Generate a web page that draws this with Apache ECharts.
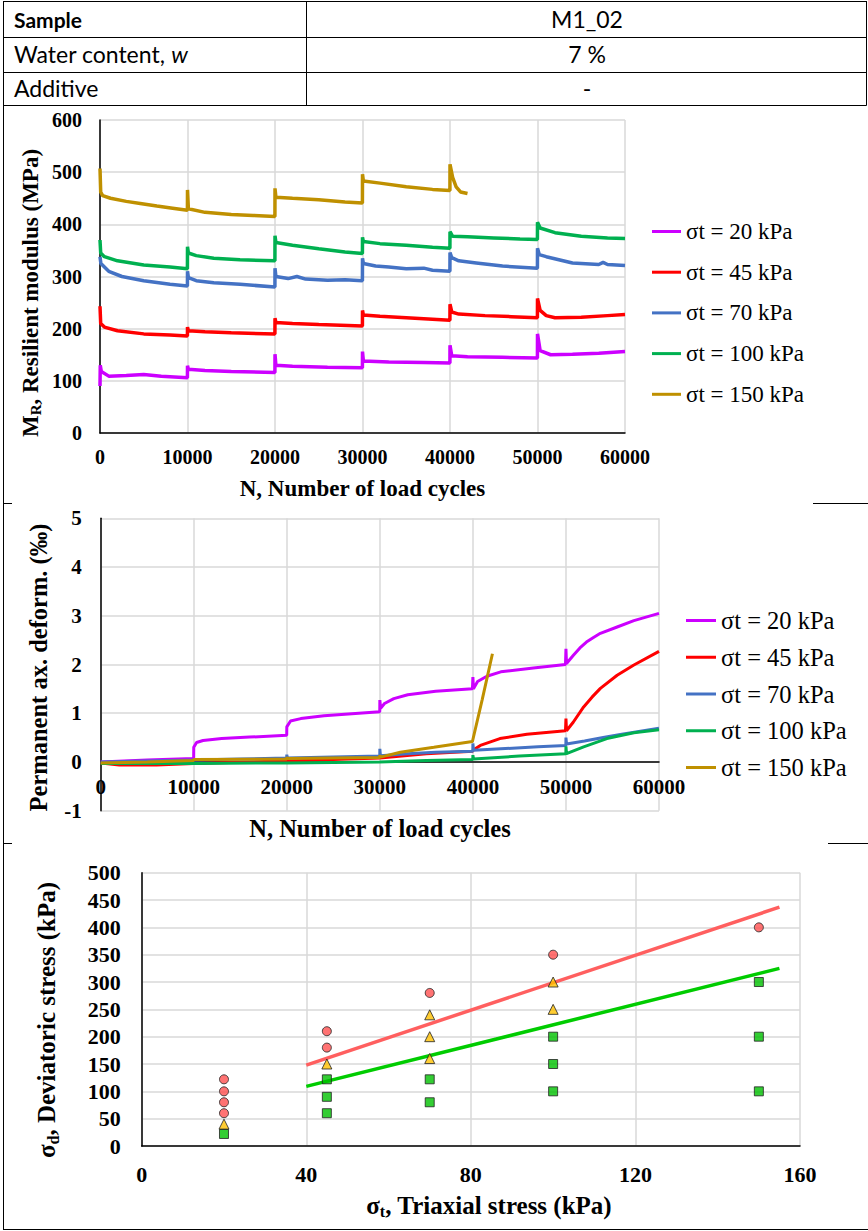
<!DOCTYPE html>
<html><head><meta charset="utf-8">
<script src="https://cdn.jsdelivr.net/npm/echarts@6/dist/echarts.min.js"></script>
<style>html,body{margin:0;padding:0;background:#fff}#c{width:868px;height:1231px}</style>
</head><body><div id="c"></div>
<script>
// ---------- data ----------
const seriesNames = ['σt = 20 kPa', 'σt = 45 kPa', 'σt = 70 kPa', 'σt = 100 kPa', 'σt = 150 kPa'];
const lineColors = ['#CC00FF', '#FF0000', '#4472C4', '#00B050', '#BF9000'];

const nTicks = [0, 10000, 20000, 30000, 40000, 50000, 60000];
const mrTicks = [0, 100, 200, 300, 400, 500, 600];
const pdTicks = [-1, 0, 1, 2, 3, 4, 5];
const stTicks = [0, 40, 80, 120, 160];
const sdTicks = [0, 50, 100, 150, 200, 250, 300, 350, 400, 450, 500];

// Resilient modulus MR (MPa) vs N
const mr20 = [[0,90],[30,130],[150,118],[1000,109],[3000,110],[5000,112],[7000,109],[9990,106],
  [10000,129],[10100,122],[12000,120],[15000,118],[19990,116],
  [20000,151],[20100,130],[22000,128],[26000,126],[29990,125],
  [30000,156],[30100,138],[33000,136],[37000,135],[39990,134],
  [40000,168],[40200,148],[42000,146],[46000,145],[49990,144],
  [50000,190],[50300,158],[51500,150],[54000,151],[57000,153],[60000,156]];
const mr45 = [[0,243],[80,210],[500,203],[2000,196],[5000,190],[8000,188],[9990,186],
  [10000,203],[10100,196],[12000,194],[15000,192],[19990,190],
  [20000,220],[20100,212],[22000,210],[25000,208],[29990,205],
  [30000,235],[30100,226],[32000,224],[35000,221],[38000,218],[39990,216],
  [40000,247],[40200,232],[41000,228],[44000,225],[47000,223],[49990,221],
  [50000,258],[50300,235],[51000,225],[52000,221],[55000,222],[58000,225],[60000,227]];
const mr70 = [[0,338],[100,325],[1000,310],[2500,300],[5000,292],[8000,285],[9990,282],
  [10000,310],[10100,298],[11000,292],[13000,288],[16000,285],[19990,280],
  [20000,316],[20100,300],[21500,296],[22500,300],[23500,295],[26000,293],[28000,294],[29990,292],
  [30000,335],[30100,325],[31500,320],[33000,318],[35000,315],[37000,316],[38000,312],[39990,310],
  [40000,346],[40200,336],[41000,330],[43000,326],[46000,320],[49990,316],
  [50000,354],[50200,342],[51000,338],[54000,326],[57000,323],[57500,327],[58000,323],[60000,321]];
const mr100 = [[0,370],[80,345],[500,338],[2000,330],[5000,322],[8000,318],[9990,315],
  [10000,357],[10100,345],[11000,340],[13000,335],[16000,332],[19990,330],
  [20000,378],[20100,365],[22000,360],[25000,353],[28000,347],[29990,344],
  [30000,375],[30100,367],[32000,363],[35000,360],[38000,356],[39990,354],
  [40000,386],[40300,377],[42000,376],[45000,374],[48000,372],[49990,371],
  [50000,404],[50300,393],[52000,384],[55000,377],[58000,374],[60000,373]];
const mr150 = [[0,507],[80,462],[300,455],[1200,450],[3000,444],[4600,440],[6500,435],[8300,431],[9990,427],
  [10000,466],[10100,430],[12000,423],[15000,419],[17500,417],[19990,415],
  [20000,469],[20100,452],[22000,450],[25000,447],[28000,443],[29990,441],
  [30000,496],[30100,483],[32000,479],[35000,472],[38000,467],[39990,465],
  [40000,515],[40300,490],[40700,472],[41200,462],[42000,459]];

// Permanent axial deformation (‰) vs N
const pd20 = [[0,0],[5000,0.04],[9990,0.07],[10000,0.3],[10300,0.4],[11000,0.44],[13000,0.48],[16000,0.51],[19990,0.55],
  [20000,0.72],[20400,0.84],[21500,0.89],[24000,0.95],[27000,0.99],[29990,1.03],
  [30000,1.27],[30080,1.1],[30500,1.2],[31500,1.3],[33000,1.38],[36000,1.45],[39950,1.5],
  [40000,1.74],[40060,1.5],[40500,1.65],[41500,1.76],[43000,1.85],[46500,1.93],[49950,2.0],
  [50000,2.32],[50060,2.02],[50800,2.19],[51500,2.34],[52200,2.46],[53000,2.56],[53700,2.64],[55500,2.77],[57300,2.9],[60000,3.05]];
const pd45 = [[0,-0.02],[2000,-0.06],[6000,-0.06],[10000,-0.03],[20000,0.02],[30000,0.08],[35000,0.17],[39990,0.22],
  [40000,0.24],[40800,0.34],[42900,0.48],[45800,0.57],[49950,0.64],
  [50000,0.89],[50060,0.64],[50800,0.82],[51900,1.13],[52800,1.33],[53700,1.51],[55500,1.78],[57300,1.99],[60000,2.27]];
const pd70 = [[0,0],[5000,0.02],[10000,0.04],[15000,0.06],[19990,0.08],[20000,0.15],[20060,0.08],[25000,0.1],[29990,0.12],
  [30000,0.27],[30060,0.13],[33000,0.17],[36000,0.2],[39990,0.22],
  [40000,0.38],[40060,0.24],[43000,0.27],[47000,0.31],[49990,0.34],
  [50000,0.5],[50060,0.37],[52000,0.43],[54000,0.5],[56000,0.57],[58000,0.63],[60000,0.69]];
const pd100 = [[0,-0.03],[10000,-0.03],[20000,-0.02],[30000,0.0],[35000,0.03],[39990,0.05],
  [40000,0.14],[40060,0.06],[45000,0.12],[49990,0.17],
  [50000,0.32],[50060,0.17],[51900,0.31],[54400,0.48],[57300,0.6],[60000,0.66]];
const pd150 = [[0,-0.02],[5000,0.0],[9990,0.03],[10000,0.05],[19990,0.06],[20000,0.1],[20060,0.07],[25000,0.08],[29990,0.09],
  [30000,0.14],[30060,0.1],[32200,0.2],[35800,0.3],[39950,0.42],
  [41000,1.28],[42100,2.22]];

// Deviatoric stress vs triaxial stress (kPa)
const circlePts = [[20,122],[20,100],[20,80],[20,60],[45,210],[45,180],[70,280],[100,350],[150,400]];
const trianglePts = [[20,40],[45,150],[70,240],[70,200],[70,160],[100,300],[100,250]];
const squarePts = [[20,22],[45,122],[45,90],[45,60],[70,122],[70,80],[100,200],[100,150],[100,100],[150,300],[150,200],[150,100]];
const redLine = [[40,148],[155,437]];
const greenLine = [[40,109],[155,325]];

// ---------- chart ----------
const SERIF = 'Liberation Serif';
const SANS = 'Lato';
const chart = echarts.init(document.getElementById('c'), null, {renderer: 'svg'});

function valAxis(ticks, gi, fs, margin, onZero) {
  return {
    type: 'value', gridIndex: gi,
    min: ticks[0], max: ticks[ticks.length - 1], interval: ticks[1] - ticks[0],
    axisTick: {show: false},
    axisLine: {show: true, onZero: !!onZero, lineStyle: {color: '#000', width: 1.5}},
    splitLine: {show: true, lineStyle: {color: '#d9d9d9', width: 1.5}},
    axisLabel: {color: '#000', fontFamily: SERIF, fontWeight: 'bold', fontSize: fs, margin: margin,
      formatter: function (v) { return String(v); }}
  };
}

function lineSeries(name, data, idx, gi, w) {
  return {
    type: 'line', name: name, data: data, xAxisIndex: gi, yAxisIndex: gi,
    showSymbol: false, symbol: 'none', color: lineColors[idx],
    lineStyle: {color: lineColors[idx], width: w}, z: 3
  };
}

function hline(y, x1, x2) {
  return {type: 'line', shape: {x1: x1, y1: y, x2: x2, y2: y}, style: {stroke: '#000', lineWidth: 1}, z: 10};
}
function vline(x, y1, y2) {
  return {type: 'line', shape: {x1: x, y1: y1, x2: x, y2: y2}, style: {stroke: '#000', lineWidth: 1}, z: 10};
}
function txt(x, y, text, opts) {
  const st = Object.assign({
    text: text, fill: '#000', fontFamily: SANS, fontSize: 23, fontWeight: 'normal',
    align: 'left', verticalAlign: 'middle', textAlign: 'left', textVerticalAlign: 'middle'
  }, opts.style || {});
  if (st.align) st.textAlign = st.align;
  return {type: 'text', x: x, y: y, rotation: opts.rotation || 0, style: st, z: 10};
}
function title(x, y, text, fs, rot, subFs) {
  return txt(x, y, text, {rotation: rot, style: {
    fontFamily: SERIF, fontWeight: 'bold', fontSize: fs, align: 'center', lineHeight: fs + 4,
    rich: {
      n: {fontFamily: SERIF, fontWeight: 'bold', fontSize: fs, lineHeight: fs + 4, verticalAlign: 'middle'},
      s: {fontFamily: SERIF, fontWeight: 'bold', fontSize: subFs, lineHeight: subFs, verticalAlign: 'bottom'}
    }
  }});
}

const legendBase = {
  orient: 'vertical', icon: 'rect', itemHeight: 3, padding: 0,
  data: seriesNames, selectedMode: false
};

const option = {
  backgroundColor: '#fff',
  animation: false,
  grid: [
    {left: 100, top: 120, width: 525, height: 313},
    {left: 100.7, top: 518.3, width: 558.3, height: 292.4},
    {left: 141.7, top: 872.7, width: 658.3, height: 273.3}
  ],
  xAxis: [
    valAxis(nTicks, 0, 20, 14),
    valAxis(nTicks, 1, 21, -34.5, true),
    valAxis(stTicks, 2, 22, 17)
  ],
  yAxis: [
    valAxis(mrTicks, 0, 20, 18),
    valAxis(pdTicks, 1, 21, 19),
    valAxis(sdTicks, 2, 22, 21)
  ],
  legend: [
    Object.assign({}, legendBase, {left: 652, top: 220, itemWidth: 29, itemGap: 17.7,
      textStyle: {color: '#000', fontFamily: SERIF, fontSize: 23}}),
    Object.assign({}, legendBase, {left: 686, top: 608, itemWidth: 30, itemGap: 11.75,
      textStyle: {color: '#000', fontFamily: SERIF, fontSize: 24.5}})
  ],
  series: [
    lineSeries(seriesNames[0], mr20, 0, 0, 3.5),
    lineSeries(seriesNames[1], mr45, 1, 0, 3.5),
    lineSeries(seriesNames[2], mr70, 2, 0, 3.5),
    lineSeries(seriesNames[3], mr100, 3, 0, 3.5),
    lineSeries(seriesNames[4], mr150, 4, 0, 3.5),
    lineSeries(seriesNames[0], pd20, 0, 1, 3),
    lineSeries(seriesNames[1], pd45, 1, 1, 3),
    lineSeries(seriesNames[2], pd70, 2, 1, 3),
    lineSeries(seriesNames[3], pd100, 3, 1, 3),
    lineSeries(seriesNames[4], pd150, 4, 1, 3),
    {type: 'line', name: 'fit upper', data: redLine, xAxisIndex: 2, yAxisIndex: 2, symbol: 'none',
      lineStyle: {color: '#FF5F5F', width: 3.5}, color: '#FF5F5F', z: 3},
    {type: 'line', name: 'fit lower', data: greenLine, xAxisIndex: 2, yAxisIndex: 2, symbol: 'none',
      lineStyle: {color: '#00CC00', width: 3.5}, color: '#00CC00', z: 3},
    {type: 'scatter', name: 'circles', data: circlePts, xAxisIndex: 2, yAxisIndex: 2, symbol: 'circle', symbolSize: 9,
      itemStyle: {color: '#FF5050', borderColor: '#222', borderWidth: 1}, z: 5},
    {type: 'scatter', name: 'triangles', data: trianglePts, xAxisIndex: 2, yAxisIndex: 2, symbol: 'triangle', symbolSize: 10,
      itemStyle: {color: '#FFC000', borderColor: '#222', borderWidth: 1}, z: 5},
    {type: 'scatter', name: 'squares', data: squarePts, xAxisIndex: 2, yAxisIndex: 2, symbol: 'rect', symbolSize: 9,
      itemStyle: {color: '#00C000', borderColor: '#222', borderWidth: 1}, z: 5}
  ],
  graphic: [
    // table & frame lines
    hline(1.5, 3, 866.5), hline(37.5, 3, 866.5), hline(72.5, 3, 866.5), hline(105.5, 3, 866.5),
    vline(3.5, 1, 1229.5), vline(866.5, 1, 105.5), vline(306.5, 1, 105.5),
    hline(503.5, 3, 12), hline(503.5, 813, 868), hline(843.5, 3, 12), hline(843.5, 828, 868),
    hline(1229.5, 3, 868),
    // table text
    txt(14, 19, 'Sample', {style: {fontWeight: 'bold', fontSize: 21}}),
    txt(587, 19, 'M1_02', {style: {align: 'center'}}),
    txt(14, 54, 'Water content, {i|w}', {style: {rich: {i: {fontFamily: SANS, fontSize: 23, fontStyle: 'italic'}}}}),
    txt(587, 54, '7 %', {style: {align: 'center'}}),
    txt(14, 88, 'Additive', {}),
    txt(587, 88, '-', {style: {align: 'center'}}),
    // axis titles
    title(362.5, 488, '{n|N, Number of load cycles}', 23, 0, 15),
    title(30, 293, '{n|M}{s|R}{n|, Resilient modulus (MPa)}', 23, Math.PI / 2, 15),
    title(380, 828, '{n|N, Number of load cycles}', 24.5, 0, 16),
    title(38, 667.5, '{n|Permanent ax. deform. (‰)}', 24.5, Math.PI / 2, 16),
    title(489, 1205, '{n|σ}{s|t}{n|, Triaxial stress (kPa)}', 25, 0, 16),
    title(46.7, 1020, '{n|σ}{s|d}{n|, Deviatoric stress (kPa)}', 25, Math.PI / 2, 16)
  ]
};
chart.setOption(option);
</script>
</body></html>
